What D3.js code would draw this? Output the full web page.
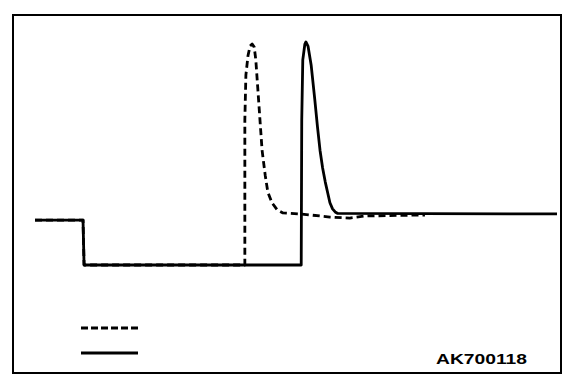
<!DOCTYPE html>
<html>
<head>
<script src="https://d3js.org/d3.v7.min.js"></script>
<style>
  body { margin: 0; background: #fff; }
</style>
</head>
<body>
<svg width="576" height="390"></svg>
<script>
// time in arbitrary units, signal level in volts (baseline = 0, low = -1)
var solidT = [0, 9.2, 9.4, 51.0, 51.1, 51.3, 51.7, 51.9, 52.3, 52.9, 53.6, 54.1, 54.6, 55.1, 55.6, 56.1, 56.5, 57.0, 57.5, 58.0, 100]
var solidV = [-0.12, -0.12, -1, -1, 1.84, 3.02, 3.33, 3.37, 3.29, 2.92, 2.24, 1.72, 1.25, 0.9, 0.63, 0.4, 0.22, 0.1, 0.04, 0.01, 0]

var dashT = [0, 9.2, 9.4, 40.2, 40.2, 40.4, 40.8, 41.2, 41.6, 42.0, 42.3, 42.7, 43.1, 43.5, 44.1, 44.6, 45.4, 46.4, 47.5, 50.8, 56.5, 60.3, 63.2, 74.7]
var dashV = [-0.12, -0.12, -1, -1, 1.84, 2.72, 3.1, 3.29, 3.33, 3.27, 3.02, 2.43, 1.84, 1.25, 0.76, 0.43, 0.22, 0.08, 0.02, 0, -0.06, -0.08, -0.04, -0.02]

var legendLabels = ["dashed", "solid"]
var codeLabel = "AK700118"

var svg = d3.select('svg')

var x = d3.scaleLinear().domain([0, 100]).range([35, 557])
var y = d3.scaleLinear().domain([-1, 3.37]).range([265, 42])

  // frame
  svg.append('rect')
    .attr('x', 13)
    .attr('y', 15)
    .attr('width', 548)
    .attr('height', 358)
    .attr('fill', 'none')
    .attr('stroke', '#000')
    .attr('stroke-width', 2)

var line = d3.line()
  .x(function(d) { return x(d[0]) })
  .y(function(d) { return y(d[1]) })

var dashData = d3.zip(dashT, dashV)
var solidData = d3.zip(solidT, solidV)

  // dashed trace
  svg.append('path')
    .attr('d', line(dashData))
    .attr('fill', 'none')
    .attr('stroke', '#000')
    .attr('stroke-width', 2.8)
    .attr('stroke-dasharray', '7,4')
    .attr('stroke-linejoin', 'round')

  // solid trace
  svg.append('path')
    .attr('d', line(solidData))
    .attr('fill', 'none')
    .attr('stroke', '#000')
    .attr('stroke-width', 2.8)
    .attr('stroke-linejoin', 'round')

  // legend (no labels in the picture)
  svg.selectAll('.legend')
    .data(legendLabels)
    .enter()
    .append('line')
    .attr('class', 'legend')
    .attr('x1', 81)
    .attr('x2', 138)
    .attr('y1', function(d, i) { return 328 + i * 25 })
    .attr('y2', function(d, i) { return 328 + i * 25 })
    .attr('stroke', '#000')
    .attr('stroke-width', 2.8)
    .attr('stroke-dasharray', function(d) { return d == 'dashed' ? '7,3' : null })

  svg.append('text')
    .attr('x', 436)
    .attr('y', 364)
    .attr('textLength', 91)
    .attr('lengthAdjust', 'spacingAndGlyphs')
    .style('font-family', 'Liberation Sans, Arial, sans-serif')
    .style('font-weight', 'bold')
    .style('font-size', '15px')
    .text(codeLabel)
</script>
</body>
</html>
